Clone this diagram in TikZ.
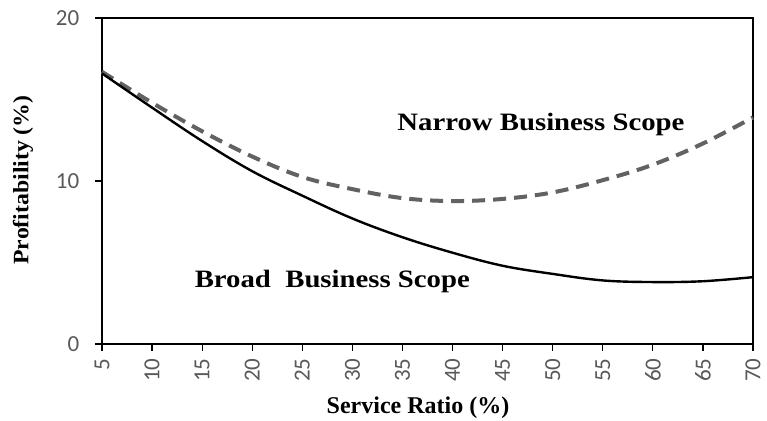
\documentclass[tikz,border=0pt]{standalone}
\usepackage{fontspec}
\setmainfont{Liberation Serif}
\newfontfamily\tickfont{Carlito}
\newfontfamily\labfont[FakeStretch=1.15]{Liberation Serif}
\newfontfamily\ylabfont[FakeStretch=1.08]{Liberation Serif}
\definecolor{tickgray}{HTML}{595959}
\definecolor{dashgray}{HTML}{626262}
\begin{document}
\begin{tikzpicture}[x=10.015pt, y=16.3pt,
  axisline/.style={line width=1.5pt, black},
  tickline/.style={line width=1.2pt, black},
  ticklab/.style={font=\tickfont\fontsize{23pt}{23pt}\selectfont, text=tickgray, inner sep=0pt},
  scopelab/.style={font=\labfont\bfseries\fontsize{25}{25}\selectfont, inner sep=0pt, anchor=base},
  ylab/.style={font=\ylabfont\bfseries\fontsize{22}{22}\selectfont, inner sep=0pt},
  xlab/.style={font=\bfseries\fontsize{24}{24}\selectfont, inner sep=0pt, anchor=base},
  broadcurve/.style={line width=2.4pt, black},
  narrowcurve/.style={line width=4pt, dashgray, dash pattern=on 13pt off 8pt}]
\useasboundingbox (-5.185,-4.663) rectangle (71.40,21.104);
\fill[white] (-5.185,-4.663) rectangle (71.40,21.104);
% frame
\coordinate (bl) at (5,0);
\coordinate (br) at (70,0);
\coordinate (tl) at (5,20);
\coordinate (tr) at (70,20);
\draw[axisline] (bl) -- (br) -- (tr) -- (tl) -- cycle;
% y ticks
\foreach \v in {0,10,20} {
  \coordinate (yt\v) at (5,\v);
  \coordinate (ytl\v) at (4.3,\v);
  \draw[tickline] (ytl\v) -- (yt\v);
  \node[ticklab, anchor=east] (ylab\v) at (2.75,\v) {\v};
}
% x ticks
\foreach \v in {5,10,...,70} {
  \coordinate (xt\v) at (\v,0);
  \coordinate (xtl\v) at (\v,-0.4);
  \draw[tickline] (xt\v) -- (xtl\v);
  \node[ticklab, rotate=90, anchor=east] (xlab\v) at (\v,-0.88) {\v};
}
% curves
\draw[narrowcurve] plot[smooth, tension=0.6] coordinates {
  (5,16.7) (10,14.8) (15,13.05) (20,11.5) (25,10.25) (30,9.5) (35,8.95)
  (40,8.77) (45,8.9) (50,9.3) (55,10.05) (60,11.0) (65,12.3) (70,13.9)};
\draw[broadcurve] plot[smooth, tension=0.6] coordinates {
  (5,16.6) (10,14.5) (15,12.45) (20,10.6) (25,9.1) (30,7.7) (35,6.55)
  (40,5.6) (45,4.8) (50,4.3) (55,3.9) (60,3.8) (65,3.85) (70,4.1)};
% labels
\node[scopelab] (narrow) at (48.83,13.07) {Narrow Business Scope};
\node[scopelab] (broad) at (28.0,3.44) {Broad\ \ Business Scope};
\node[ylab, rotate=90] (ylabel) at (-2.89,10.06) {Profitability (\%)};
\node[xlab] (xlabel) at (36.55,-4.29) {Service Ratio (\%)};
\end{tikzpicture}
\end{document}
